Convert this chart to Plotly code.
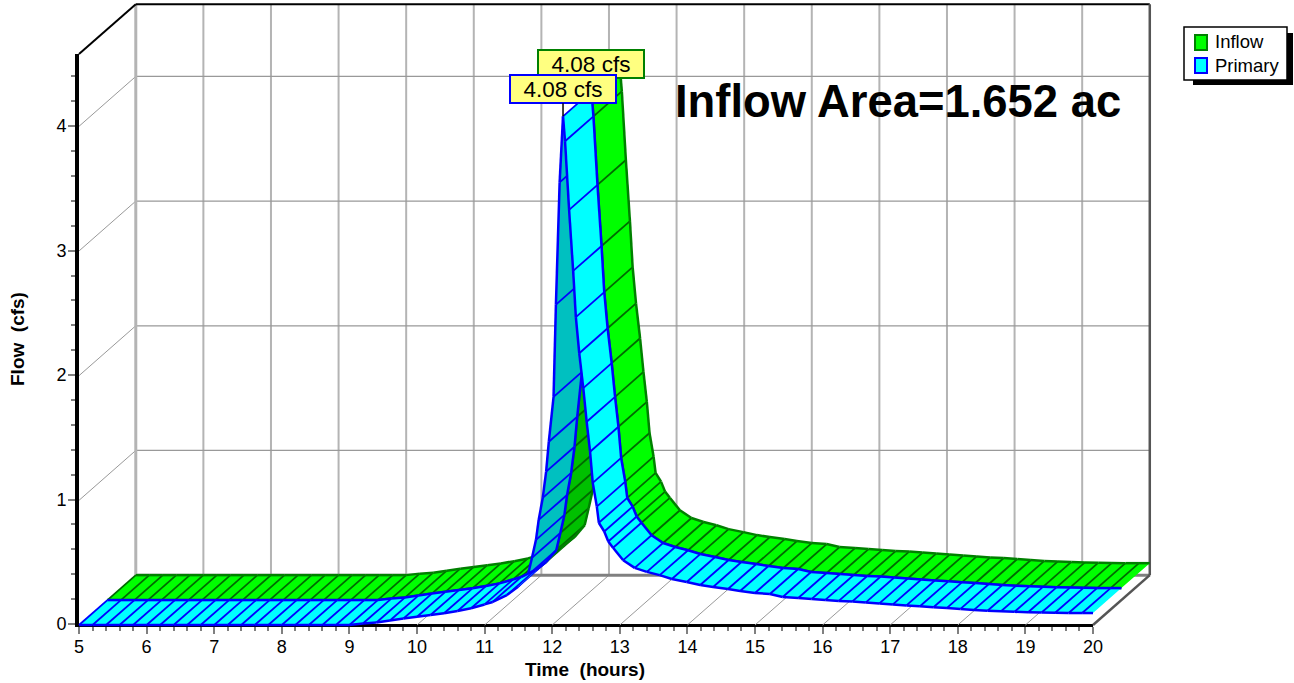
import plotly.graph_objects as go

# ---------- data (hours, cfs) ----------
time_h = [5.0, 5.2, 5.4, 5.6, 5.8, 6.0, 6.2, 6.4, 6.6, 6.8, 7.0, 7.2, 7.4, 7.6, 7.8, 8.0, 8.2, 8.4, 8.6, 8.8, 9.0,
          9.2, 9.4, 9.6, 9.8, 10.0, 10.2, 10.4, 10.6, 10.8, 11.0, 11.12, 11.33, 11.49, 11.64,
          11.70, 11.76, 11.80, 11.86, 11.91, 11.95, 12.02, 12.055, 12.11, 12.16,
          12.19, 12.25, 12.31, 12.35, 12.40, 12.46, 12.51, 12.56, 12.60, 12.66, 12.69, 12.77, 12.83, 12.90,
          13.05, 13.22, 13.40, 13.59, 13.77, 13.99, 14.19, 14.38, 14.60, 14.78, 15.00, 15.22, 15.41, 15.64,
          15.84, 16.04, 16.24, 16.44, 16.64, 16.84, 17.04, 17.24, 17.44, 17.64, 17.84, 18.04, 18.24, 18.44,
          18.64, 18.84, 19.04, 19.24, 19.44, 19.64, 19.84, 20.0]
primary_cfs = [0.0] * 21 + [
          0.012, 0.02, 0.036, 0.052, 0.066, 0.08, 0.094, 0.112, 0.134, 0.165, 0.185, 0.24, 0.305, 0.40,
          0.538, 0.683, 0.843, 1.02, 1.23, 1.47, 1.83, 2.57, 3.55, 4.08,
          3.88, 3.33, 2.84, 2.47, 2.18, 1.90, 1.63, 1.39, 1.14, 0.95, 0.82, 0.75, 0.67, 0.62,
          0.52, 0.458, 0.426, 0.40, 0.369, 0.345, 0.321, 0.305, 0.289, 0.273, 0.257, 0.249, 0.225, 0.217,
          0.209, 0.201, 0.193, 0.189, 0.181, 0.173, 0.165, 0.157, 0.150, 0.142, 0.137, 0.129, 0.121, 0.114,
          0.110, 0.106, 0.102, 0.100, 0.098, 0.096, 0.096, 0.096]
inflow_cfs = list(primary_cfs)
x_ticks = list(range(5, 21))
y_ticks = [0, 1, 2, 3, 4]
series_names = ["Inflow", "Primary"]
peak_labels = ["4.08 cfs", "4.08 cfs"]
heading = "Inflow Area=1.652 ac"
x_title = "Time\u00a0\u00a0(hours)"
y_title = "Flow\u00a0\u00a0(cfs)"

# ---------- oblique 3-D look ----------
DT, DV = 0.84, 0.40      # how far the back of the box is shifted, in axis units
TOP = 4.58
FW, FH = 1294, 683       # figure size
L, R, T, B = 79, 1093, 54, 625   # front plot frame in the figure
KX = (R - L) / 15.0
KY = (B - T) / TOP


def proj(t, v, d):
    return t + DT * d, v + DV * d


def px(x, y):
    return x / FW, (FH - y) / FH


def ribbon(t, v, d0, d1, fill, under, edge, hatch):
    traces = []
    groups = {True: [], False: []}
    for i in range(len(t) - 1):
        slope = (v[i + 1] - v[i]) / (t[i + 1] - t[i])
        groups[slope > DV / DT].append(i)
    for is_under in (True, False):
        fx, fy, ex, ey, hx, hy = [], [], [], [], [], []
        for i in groups[is_under]:
            a0 = proj(t[i], v[i], d0)
            b0 = proj(t[i + 1], v[i + 1], d0)
            b1 = proj(t[i + 1], v[i + 1], d1)
            a1 = proj(t[i], v[i], d1)
            fx += [a0[0], b0[0], b1[0], a1[0], a0[0], None]
            fy += [a0[1], b0[1], b1[1], a1[1], a0[1], None]
            ex += [a0[0], b0[0], None, a1[0], b1[0], None]
            ey += [a0[1], b0[1], None, a1[1], b1[1], None]
            hx += [a0[0], a1[0], None]
            hy += [a0[1], a1[1], None]
        traces.append(go.Scatter(x=fx, y=fy, xaxis="x2", yaxis="y2", mode="lines", fill="toself",
                                 line=dict(width=0), fillcolor=under if is_under else fill,
                                 hoverinfo="skip", showlegend=False))
        traces.append(go.Scatter(x=hx, y=hy, xaxis="x2", yaxis="y2", mode="lines",
                                 line=dict(color=hatch, width=1.8), hoverinfo="skip", showlegend=False))
        traces.append(go.Scatter(x=ex, y=ey, xaxis="x2", yaxis="y2", mode="lines",
                                 line=dict(color=edge, width=2.5), hoverinfo="skip", showlegend=False))
    return traces


def seg(pairs, color, width):
    xs, ys = [], []
    for a, b in pairs:
        xs += [a[0], b[0], None]
        ys += [a[1], b[1], None]
    return go.Scatter(x=xs, y=ys, xaxis="x2", yaxis="y2", mode="lines", line=dict(color=color, width=width),
                      hoverinfo="skip", showlegend=False)


X0, X1 = x_ticks[0], x_ticks[-1]
fig = go.Figure()

# empty trace so that the visible front axes are drawn
fig.add_trace(go.Scatter(x=[X0], y=[0], mode="lines", hoverinfo="skip", showlegend=False))

# back wall and floor grid
fig.add_trace(seg([(proj(t, 0, 1), proj(t, TOP, 1)) for t in x_ticks[1:-1]], "#b4b4b4", 2))
fig.add_trace(seg([(proj(X0, v, 1), proj(X1, v, 1)) for v in y_ticks[1:]], "#999999", 1.2))
fig.add_trace(seg([(proj(X0, v, 0), proj(X0, v, 1)) for v in y_ticks[1:]], "#999999", 1))
fig.add_trace(seg([(proj(t, 0, 0), proj(t, 0, 1)) for t in x_ticks[1:-1]], "#999999", 1))
fig.add_trace(seg([(proj(X0, 0, 1), proj(X1, 0, 1))], "#808080", 3))
fig.add_trace(seg([(proj(X0, 0, 1), proj(X0, TOP, 1))], "#b4b4b4", 3))
fig.add_trace(seg([(proj(X0, TOP, 0), proj(X0, TOP, 1)), (proj(X0, TOP, 1), proj(X1, TOP, 1))], "#000000", 2))
fig.add_trace(seg([(proj(X1, 0, 0), proj(X1, 0, 1)), (proj(X1, 0, 1), proj(X1, TOP, 1))], "#555555", 2.5))

# ribbons, back one first
for tr in ribbon(time_h, inflow_cfs, 0.5, 1.0, "#00ff00", "#00c000", "#008000", "#006a00"):
    fig.add_trace(tr)
for tr in ribbon(time_h, primary_cfs, 0.0, 0.5, "#00ffff", "#00c0c0", "#0000ff", "#0000ff"):
    fig.add_trace(tr)

# peak labels
i_inflow = inflow_cfs.index(max(inflow_cfs))
i_primary = primary_cfs.index(max(primary_cfs))
ann = []
for i, vals, d, col, txt in [(i_inflow, inflow_cfs, 0.5, "#008000", peak_labels[0]),
                             (i_primary, primary_cfs, 0.0, "#0000ff", peak_labels[1])]:
    xa, ya = proj(time_h[i], vals[i], d)
    ann.append(dict(x=xa, y=ya, xref="x2", yref="y2", text=txt, showarrow=True, arrowhead=0, arrowwidth=1.5,
                    arrowcolor="#000000", ax=0, ay=-27, standoff=0, bgcolor="#ffff80", bordercolor=col,
                    borderwidth=2, borderpad=0, width=104, height=26,
                    font=dict(family="Liberation Sans", size=22.5, color="#000000")))

# heading
hx, hy = px(898, 102)
ann.append(dict(x=hx, y=hy, xref="paper", yref="paper", text="<b>" + heading + "</b>", showarrow=False,
                xanchor="center", yanchor="middle", font=dict(family="Liberation Sans", size=45.4, color="#000000")))

# axis titles
titlefont = dict(family="Liberation Sans", size=19, color="#000000")
tx, ty = px(585, 669)
ann.append(dict(x=tx, y=ty, xref="paper", yref="paper", text="<b>" + x_title + "</b>", showarrow=False,
                xanchor="center", yanchor="middle", font=titlefont))
tx, ty = px(17, 339)
ann.append(dict(x=tx, y=ty, xref="paper", yref="paper", text="<b>" + y_title + "</b>", showarrow=False,
                xanchor="center", yanchor="middle", textangle=-90, font=titlefont))

# legend box
shapes = []


def box(x0, y0, x1, y1, fill, line, lw):
    a = px(x0, y0)
    b = px(x1, y1)
    shapes.append(dict(type="rect", xref="paper", yref="paper", x0=a[0], y0=a[1], x1=b[0], y1=b[1],
                       fillcolor=fill, line=dict(color=line, width=lw)))


box(1193, 33, 1293, 85, "#000000", "#000000", 0)
box(1184, 27, 1287, 80, "#ffffff", "#000000", 1.5)
box(1195, 35, 1207, 50, "#00ff00", "#008000", 2)
box(1195, 58, 1207, 73, "#00ffff", "#0000ff", 2)
for name, yy in zip(series_names, (42, 65)):
    lx, ly = px(1213, yy)
    ann.append(dict(x=lx, y=ly, xref="paper", yref="paper", text=name, showarrow=False, xanchor="left",
                    yanchor="middle", font=dict(family="Liberation Sans", size=18.5, color="#000000")))

tickfont = dict(family="Liberation Sans", size=18, color="#000000")
minor = dict(dtick=0.2, ticks="outside", ticklen=4, tickwidth=1.5, tickcolor="#808080", showgrid=False)
fig.update_layout(
    width=FW, height=FH, margin=dict(l=0, t=0, r=0, b=0),
    paper_bgcolor="#ffffff", plot_bgcolor="rgba(0,0,0,0)", showlegend=False,
    annotations=ann, shapes=shapes,
    xaxis=dict(domain=[L / FW, R / FW], range=[X0, X1], anchor="y", automargin=False, tickmode="array",
               tickvals=x_ticks, ticktext=[str(v) for v in x_ticks], showgrid=False, zeroline=False,
               showline=True, linecolor="#000000", linewidth=3, ticks="outside", ticklen=7, tickwidth=2,
               tickcolor="#808080", tickfont=tickfont, minor=minor, ticklabelstandoff=-3),
    yaxis=dict(domain=[(FH - B + 1) / FH, (FH - T) / FH], range=[0, TOP], anchor="x", automargin=False,
               tickmode="array", tickvals=y_ticks, ticktext=[str(v) for v in y_ticks], showgrid=False,
               zeroline=False, showline=True, linecolor="#000000", linewidth=4, ticks="outside", ticklen=7,
               tickwidth=2, tickcolor="#808080", tickfont=tickfont, minor=minor, ticklabelstandoff=-2),
    # full-page overlay axes with the same scales, so the box and ribbons can reach beyond the front frame
    xaxis2=dict(domain=[0, 1], range=[X0 - L / KX, X0 + (FW - L) / KX], anchor="y2", visible=False,
                fixedrange=True, automargin=False),
    yaxis2=dict(domain=[0, 1], range=[-(FH - B) / KY, B / KY], anchor="x2", visible=False,
                fixedrange=True, automargin=False),
)
fig.write_html("out.html", config=dict(displayModeBar=False),
               post_script="document.body.style.margin='0';document.documentElement.style.overflow='hidden';")
